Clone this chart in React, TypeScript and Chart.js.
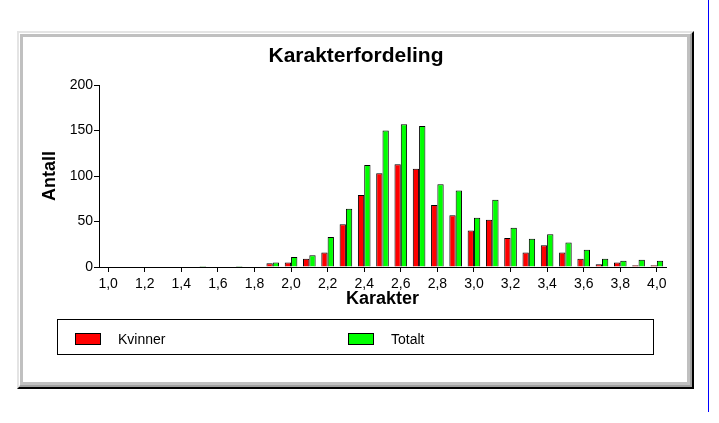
import React, { useEffect, useRef } from "react";
import { Chart, registerables } from "chart.js";

Chart.register(...registerables);

const categories = [
  "1,0", "1,1", "1,2", "1,3", "1,4", "1,5", "1,6", "1,7", "1,8", "1,9",
  "2,0", "2,1", "2,2", "2,3", "2,4", "2,5", "2,6", "2,7", "2,8", "2,9",
  "3,0", "3,1", "3,2", "3,3", "3,4", "3,5", "3,6", "3,7", "3,8", "3,9", "4,0",
];
const kvinner = [
  0, 0, 0, 0, 0, 0, 0, 0, 0, 4,
  5, 9, 16, 47, 79, 103, 113, 108, 68, 57,
  40, 52, 32, 16, 24, 16, 9, 3, 5, 2, 2,
];
const totalt = [
  0, 0, 0, 0, 0, 1, 0, 1, 0, 5,
  11, 13, 33, 64, 112, 150, 157, 155, 91, 84,
  54, 74, 43, 31, 36, 27, 19, 9, 7, 8, 7,
];
const seriesNames = ["Kvinner", "Totalt"];
const seriesColors = ["#ff0000", "#00ff00"];
const yTicks = [0, 50, 100, 150, 200];

const chartTitle = "Karakterfordeling";
const xTitle = "Karakter";
const yTitle = "Antall";

const SANS = '"Liberation Sans", Arial, sans-serif';

const PAD_LEFT = 46;

export default function App() {
  const ref = useRef<HTMLCanvasElement | null>(null);

  useEffect(() => {
    document.body.style.margin = "0";
    const canvas = ref.current;
    if (!canvas) return;
    const chart = new Chart(canvas, {
      type: "bar",
      data: {
        labels: categories,
        datasets: [
          {
            label: seriesNames[0],
            data: kvinner,
            backgroundColor: seriesColors[0],
            borderColor: "#000",
            borderWidth: 1,
            categoryPercentage: 0.69,
            barPercentage: 1,
          },
          {
            label: seriesNames[1],
            data: totalt,
            backgroundColor: seriesColors[1],
            borderColor: "#000",
            borderWidth: 1,
            categoryPercentage: 0.69,
            barPercentage: 1,
          },
        ],
      },
      options: {
        animation: false,
        responsive: false,
        maintainAspectRatio: false,
        devicePixelRatio: 1,
        layout: { padding: { left: PAD_LEFT, top: 0, right: 53, bottom: 113 } },
        plugins: {
          legend: { display: false },
          tooltip: { enabled: false },
          title: {
            display: true,
            text: chartTitle,
            color: "#000",
            font: { family: SANS, size: 21, weight: "bold", lineHeight: 1.2 },
            padding: { top: 44, bottom: 15.8 },
          },
        },
        scales: {
          x: {
            type: "category",
            offset: true,
            afterFit: (s: any) => {
              s.height = 43;
            },
            grid: {
              offset: false,
              drawOnChartArea: false,
              drawTicks: true,
              tickLength: 5,
              tickColor: (ctx: any) => (ctx.index % 2 === 0 ? "#000" : "rgba(0,0,0,0)"),
            },
            border: { display: true, color: "#000", width: 1 },
            ticks: {
              autoSkip: false,
              maxRotation: 0,
              color: "#000",
              padding: 4,
              font: { family: SANS, size: 14 },
              callback: (_v: any, i: number) => (i % 2 === 0 ? categories[i] : ""),
            },
            title: {
              display: true,
              text: xTitle,
              color: "#000",
              font: { family: SANS, size: 18, weight: "bold", lineHeight: 1.2 },
              padding: { top: 0, bottom: 0 },
            },
          },
          y: {
            min: 0,
            max: 200,
            afterFit: (s: any) => {
              s.width = 99 - PAD_LEFT;
            },
            afterBuildTicks: (s: any) => {
              s.ticks = yTicks.map((v) => ({ value: v }));
            },
            grid: {
              drawOnChartArea: false,
              drawTicks: true,
              tickLength: 5,
              tickColor: "#000",
            },
            border: { display: true, color: "#000", width: 1 },
            ticks: {
              color: "#000",
              padding: 1,
              font: { family: SANS, size: 14 },
            },
            title: {
              display: true,
              text: yTitle,
              color: "#000",
              font: { family: SANS, size: 18, weight: "bold", lineHeight: 0.45 },
              padding: { top: 0, bottom: 0 },
            },
          },
        },
      },
    });
    return () => chart.destroy();
  }, []);

  const legendItem = (i: number, left: number) => (
    <div key={i} style={{ position: "absolute", left, top: 13, height: 12 }}>
      <div
        style={{
          position: "absolute",
          left: 0,
          top: 0,
          width: 24,
          height: 10,
          background: seriesColors[i],
          border: "1px solid #000",
        }}
      />
      <div
        style={{
          position: "absolute",
          left: 43,
          top: -3,
          font: `14px ${SANS}`,
          color: "#000",
          whiteSpace: "nowrap",
          lineHeight: "18px",
        }}
      >
        {seriesNames[i]}
      </div>
    </div>
  );

  return (
    <div style={{ position: "fixed", left: 0, top: 0, width: 719, height: 423, background: "#fff", overflow: "hidden" }}>
      {/* 3D frame */}
      <div
        style={{
          position: "absolute",
          left: 17,
          top: 31,
          width: 677,
          height: 358,
          boxSizing: "border-box",
          borderTop: "2px solid #e4e4e4",
          borderLeft: "2px solid #e4e4e4",
          borderRight: "2px solid #000",
          borderBottom: "2px solid #000",
        }}
      >
        <div
          style={{
            position: "absolute",
            inset: 0,
            boxSizing: "border-box",
            borderTop: "1px solid #fff",
            borderLeft: "1px solid #fff",
            borderRight: "2px solid #a0a0a0",
            borderBottom: "2px solid #a0a0a0",
          }}
        >
          <div
            style={{
              position: "absolute",
              inset: 0,
              boxSizing: "border-box",
              border: "3px solid #c0c0c0",
              background: "#fff",
            }}
          />
        </div>
      </div>
      {/* blue page edge */}
      <div style={{ position: "absolute", left: 708, top: 0, width: 1, height: 412, background: "#0000ff" }} />
      <canvas
        ref={ref}
        width={719}
        height={423}
        style={{ position: "absolute", left: 0, top: 0, width: 719, height: 423 }}
      />
      {/* legend */}
      <div
        style={{
          position: "absolute",
          left: 57,
          top: 319,
          width: 597,
          height: 36,
          boxSizing: "border-box",
          border: "1px solid #000",
        }}
      >
        {legendItem(0, 17)}
        {legendItem(1, 290)}
      </div>
    </div>
  );
}
